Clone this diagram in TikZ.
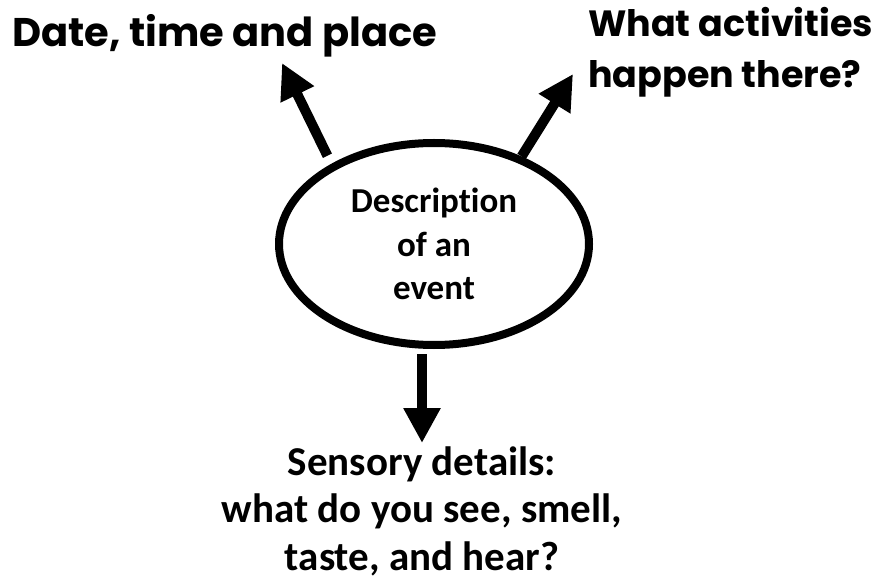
\documentclass[tikz,border=0pt]{standalone}
\usepackage{fontspec}
\setmainfont{Carlito}[Ligatures=NoCommon]
\newfontfamily\geofont{Poppins}
\usetikzlibrary{shapes.geometric, arrows.meta, positioning}
\tikzstyle{arrow} = [line width=10pt, -{Triangle[length=35pt,width=35pt]}]

\begin{document}
\begin{tikzpicture}[x=1pt, y=-1pt,
        every node/.style={inner sep=0pt},
        heading/.style={font=\geofont\bfseries\fontsize{40}{51}\selectfont},
        bubble/.style={ellipse, draw, line width=8pt, minimum width=310pt,
            minimum height=202pt, align=center,
            font=\bfseries\fontsize{35}{43.5}\selectfont},
        detail/.style={align=center, font=\bfseries\fontsize{41}{47.5}\selectfont}
    ]
    \useasboundingbox (0,0) rectangle (891,585);

    \node (event)  [bubble] at (434,244) {Description\\of an\\event};
    \node (when)   [heading, anchor=base west] at (12,47) {Date, time and place};
    \node (what)   [heading, anchor=base west, align=left,
        font=\geofont\bfseries\fontsize{36.5}{51}\selectfont] at (588,88)
        {What activities\\happen there?};
    \node (senses) [detail, anchor=base] at (422,570)
        {Sensory details:\\what do you see, smell,\\taste, and hear?};

    \coordinate (whenTip)   at (282,63);
    \coordinate (whatTip)   at (573,74);
    \coordinate (sensesTip) at (422,443);

    \draw [arrow, shorten <=9pt] (event.142.6) -- (whenTip);
    \draw [arrow] (event.45) -- (whatTip);
    \draw [arrow, shorten <=5pt] (event.south -| sensesTip) -- (sensesTip);
\end{tikzpicture}
\end{document}
